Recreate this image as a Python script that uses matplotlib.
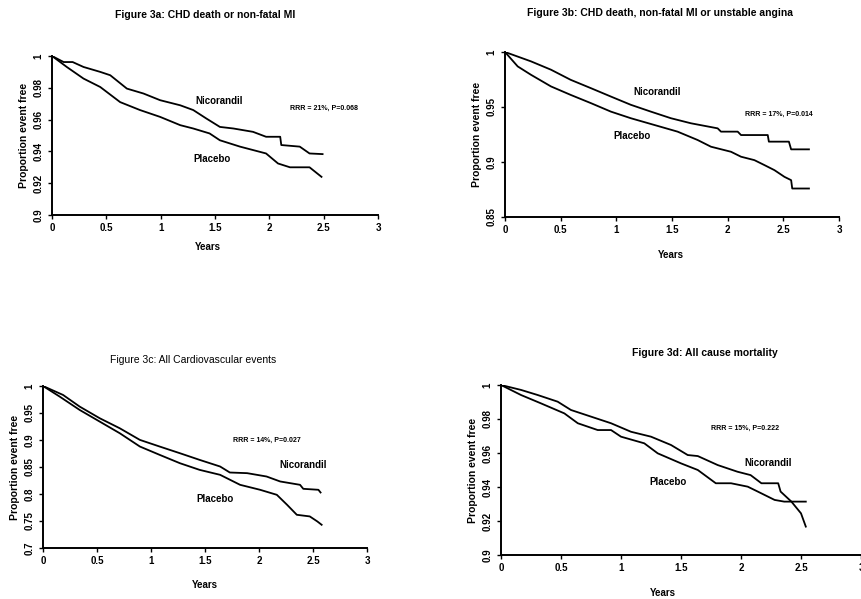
import matplotlib
matplotlib.use("Agg")
import matplotlib.pyplot as plt

plt.rcParams['font.family'] = ['Liberation Sans', 'DejaVu Sans']

# ---- data ----
# Figure 3a: CHD death or non-fatal MI
a_nic_t = [0, 0.107, 0.19, 0.29, 0.444, 0.536, 0.689, 0.842, 0.995, 1.18, 1.30, 1.42, 1.545, 1.67, 1.85, 1.97, 2.10, 2.11, 2.28, 2.37, 2.49]
a_nic_s = [1, 0.9962, 0.9962, 0.9931, 0.990, 0.9879, 0.9795, 0.9764, 0.9722, 0.969, 0.966, 0.9607, 0.9554, 0.9544, 0.9523, 0.9492, 0.9492, 0.944, 0.943, 0.9387, 0.9383]
a_pla_t = [0, 0.138, 0.29, 0.444, 0.627, 0.81, 0.995, 1.18, 1.30, 1.45, 1.545, 1.73, 1.97, 2.08, 2.19, 2.37, 2.48]
a_pla_s = [1, 0.993, 0.9858, 0.9805, 0.971, 0.966, 0.9617, 0.9565, 0.9544, 0.9513, 0.947, 0.943, 0.9387, 0.9324, 0.930, 0.930, 0.924]

# Figure 3b: CHD death, non-fatal MI or unstable angina
b_nic_t = [0, 0.233, 0.413, 0.59, 0.772, 0.951, 1.13, 1.31, 1.49, 1.67, 1.91, 1.94, 2.09, 2.12, 2.36, 2.37, 2.55, 2.57, 2.73]
b_nic_s = [1, 0.9915, 0.9839, 0.9747, 0.9671, 0.9595, 0.952, 0.9458, 0.9398, 0.9352, 0.9306, 0.9276, 0.9276, 0.9245, 0.9245, 0.9185, 0.9185, 0.9115, 0.9115]
b_pla_t = [0, 0.114, 0.233, 0.413, 0.59, 0.772, 0.951, 1.13, 1.34, 1.55, 1.73, 1.85, 2.03, 2.12, 2.24, 2.33, 2.42, 2.51, 2.57, 2.58, 2.73]
b_pla_s = [1, 0.9869, 0.9793, 0.9687, 0.961, 0.9535, 0.9458, 0.9398, 0.9337, 0.9276, 0.92, 0.9139, 0.9093, 0.9048, 0.9017, 0.8972, 0.8926, 0.8865, 0.8835, 0.8759, 0.8759]

# Figure 3c: All cardiovascular events
c_nic_t = [0, 0.186, 0.34, 0.526, 0.711, 0.897, 1.08, 1.268, 1.45, 1.64, 1.73, 1.89, 2.07, 2.196, 2.38, 2.41, 2.55, 2.57]
c_nic_s = [1, 0.9834, 0.9618, 0.9402, 0.9217, 0.9002, 0.8879, 0.8755, 0.8632, 0.8509, 0.8398, 0.8386, 0.8324, 0.8232, 0.817, 0.8096, 0.8078, 0.8028]
c_pla_t = [0, 0.155, 0.34, 0.526, 0.711, 0.897, 1.08, 1.268, 1.45, 1.64, 1.825, 2.01, 2.165, 2.26, 2.35, 2.47, 2.54, 2.58]
c_pla_s = [1, 0.9803, 0.9556, 0.934, 0.9125, 0.8879, 0.8725, 0.857, 0.8447, 0.8355, 0.817, 0.8078, 0.7985, 0.78, 0.7615, 0.7585, 0.7492, 0.743]

# Figure 3d: All cause mortality
d_nic_t = [0, 0.167, 0.306, 0.472, 0.583, 0.75, 0.917, 1.083, 1.25, 1.417, 1.556, 1.64, 1.806, 1.97, 2.08, 2.17, 2.31, 2.33, 2.42, 2.50, 2.54]
d_nic_s = [1, 0.9971, 0.9941, 0.9902, 0.9853, 0.9814, 0.9775, 0.9725, 0.9696, 0.9647, 0.9588, 0.9582, 0.9529, 0.949, 0.947, 0.9422, 0.9422, 0.9373, 0.9314, 0.9245, 0.9167]
d_pla_t = [0, 0.167, 0.333, 0.528, 0.64, 0.806, 0.917, 1.0, 1.194, 1.306, 1.5, 1.64, 1.79, 1.917, 2.056, 2.14, 2.28, 2.36, 2.54]
d_pla_s = [1, 0.9941, 0.9892, 0.9833, 0.9775, 0.9735, 0.9735, 0.9696, 0.9657, 0.9598, 0.9539, 0.950, 0.9422, 0.9422, 0.9402, 0.9373, 0.9324, 0.9314, 0.9314]

titles = ["Figure 3a: CHD death or non-fatal MI",
          "Figure 3b: CHD death, non-fatal MI or unstable angina",
          "Figure 3c: All Cardiovascular events",
          "Figure 3d: All cause mortality"]
title_weights = ["bold", "bold", "normal", "bold"]
stats = ["RRR = 21%, P=0.068", "RRR = 17%, P=0.014", "RRR = 14%, P=0.027", "RRR = 15%, P=0.222"]
x_ticks = [0, 0.5, 1, 1.5, 2, 2.5, 3]
x_tick_labels = ["0", "0.5", "1", "1.5", "2", "2.5", "3"]
y_ranges = [(0.9, 1.0), (0.85, 1.0), (0.7, 1.0), (0.9, 1.0)]
y_ticks = [[0.9, 0.92, 0.94, 0.96, 0.98, 1],
           [0.85, 0.9, 0.95, 1],
           [0.7, 0.75, 0.8, 0.85, 0.9, 0.95, 1],
           [0.9, 0.92, 0.94, 0.96, 0.98, 1]]
y_tick_labels = [["0.9", "0.92", "0.94", "0.96", "0.98", "1"],
                 ["0.85", "0.9", "0.95", "1"],
                 ["0.7", "0.75", "0.8", "0.85", "0.9", "0.95", "1"],
                 ["0.9", "0.92", "0.94", "0.96", "0.98", "1"]]
# label positions in data coords: (nicorandil, placebo, stats)
label_pos = [((1.32, 0.972), (1.30, 0.935), (2.19, 0.967)),
             ((1.15, 0.964), (0.97, 0.9236), (2.16, 0.9434)),
             ((2.19, 0.854), (1.42, 0.7905), (1.76, 0.900)),
             ((2.03, 0.954), (1.24, 0.943), (1.75, 0.9745))]

curves = [(a_nic_t, a_nic_s, a_pla_t, a_pla_s),
          (b_nic_t, b_nic_s, b_pla_t, b_pla_s),
          (c_nic_t, c_nic_s, c_pla_t, c_pla_s),
          (d_nic_t, d_nic_s, d_pla_t, d_pla_s)]

W, H = 862, 599
# axes boxes in pixels: left, top, right, bottom
boxes = [(52, 56, 378, 215), (505, 52, 839, 217), (43, 386, 367, 548), (501, 385, 861, 555)]
title_xy = [(205, 15), (660, 13), (193, 360), (705, 353)]
years_xy = [(208, 247), (671, 255), (205, 585), (663, 593)]

fig = plt.figure(figsize=(W / 100, H / 100), dpi=100)

for i in range(4):
    l, t, r, b = boxes[i]
    ax = fig.add_axes([l / W, 1 - b / H, (r - l) / W, (b - t) / H])
    nt, ns, pt, ps = curves[i]
    ax.plot(nt, ns, color="black", lw=1.3)
    ax.plot(pt, ps, color="black", lw=1.3)

    ax.set_xlim(0, 3)
    ax.set_ylim(*y_ranges[i])
    ax.set_xticks(x_ticks)
    ax.set_xticklabels(x_tick_labels, fontsize=7, fontweight="bold")
    ax.set_yticks(y_ticks[i])
    ax.set_yticklabels(y_tick_labels[i], fontsize=7, fontweight="bold", rotation=90, va="center")
    ax.tick_params(length=3, width=1.0, pad=3, direction="out")
    for s in ["top", "right"]:
        ax.spines[s].set_visible(False)
    for s in ["left", "bottom"]:
        ax.spines[s].set_linewidth(1.4)
    ax.set_ylabel("Proportion event free", fontsize=7.5, fontweight="bold", labelpad=3)

    (nx, ny), (px, py), (sx, sy) = label_pos[i]
    ax.text(nx, ny, "Nicorandil", fontsize=7, fontweight="bold", va="center")
    ax.text(px, py, "Placebo", fontsize=7, fontweight="bold", va="center")
    ax.text(sx, sy, stats[i], fontsize=5, fontweight="bold", va="center")

    fig.text(title_xy[i][0] / W, 1 - title_xy[i][1] / H, titles[i], fontsize=7.5,
             fontweight=title_weights[i], ha="center", va="center")
    fig.text(years_xy[i][0] / W, 1 - years_xy[i][1] / H, "Years", fontsize=7,
             fontweight="bold", ha="center", va="center")

fig.savefig("out.png", dpi=100)
